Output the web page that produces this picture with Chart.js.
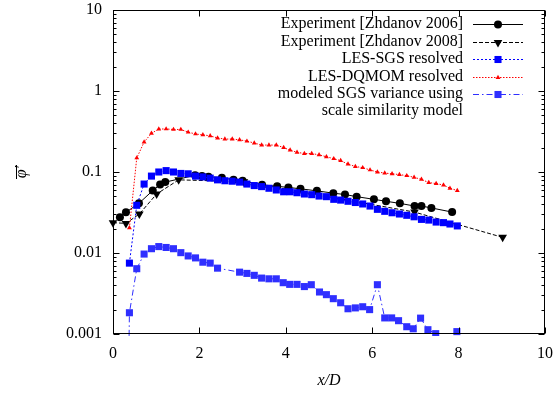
<!DOCTYPE html>
<html><head><meta charset="utf-8">
<style>html,body{margin:0;padding:0;background:#fff;}#wrap{position:relative;width:556px;height:394px;}</style>
<script src="https://cdn.jsdelivr.net/npm/chart.js@4.4.1/dist/chart.umd.min.js"></script>
</head><body><div id="wrap"><canvas id="c" width="556" height="394"></canvas></div>
<script>
// ---- data ----
const xTicks = [0, 2, 4, 6, 8, 10];
const yTicks = [0.001, 0.01, 0.1, 1, 10];
const xTitle = 'x/D';
const yTitle = '\u03C6\u2032';
const seriesNames = ['Experiment [Zhdanov 2006]', 'Experiment [Zhdanov 2008]', 'LES-SGS resolved', 'LES-DQMOM resolved', ['modeled SGS variance using', 'scale similarity model']];

const exp2006X = [0.16,0.30,0.60,0.92,1.09,1.21,1.90,2.06,2.21,2.52,2.79,3.00,3.45,3.80,4.06,4.34,4.72,5.10,5.37,5.64,6.04,6.32,6.64,6.98,7.14,7.37,7.85];
const exp2006Y = [0.0276,0.0318,0.041,0.059,0.070,0.075,0.091,0.089,0.0875,0.085,0.080,0.078,0.0695,0.0665,0.0645,0.062,0.0585,0.0548,0.0527,0.0496,0.046,0.0435,0.041,0.038,0.038,0.036,0.032];

const exp2008X = [0, 0.30, 0.61, 1.01, 1.52, 3.03, 6.98, 9.02];
const exp2008Y = [0.0237, 0.0232, 0.0303, 0.0535, 0.080, 0.076, 0.032, 0.0156];

const lesX = [0.38,0.55,0.72,0.89,1.06,1.23,1.40,1.57,1.74,1.91,2.08,2.25,2.42,2.59,2.76,2.93,3.10,3.27,3.44,3.61,3.78,3.95,4.10,4.26,4.43,4.60,4.77,4.94,5.11,5.27,5.44,5.61,5.78,5.95,6.12,6.29,6.46,6.63,6.80,6.97,7.14,7.31,7.48,7.65,7.80,7.97];
const sgsResolvedY = [0.0075,0.0388,0.071,0.089,0.100,0.104,0.100,0.096,0.095,0.089,0.087,0.084,0.080,0.078,0.077,0.075,0.071,0.068,0.066,0.063,0.060,0.057,0.057,0.0555,0.0535,0.0525,0.0505,0.0496,0.046,0.045,0.0435,0.042,0.0403,0.038,0.0346,0.0327,0.0314,0.0303,0.0292,0.028,0.026,0.0255,0.0241,0.0237,0.0228,0.0216];
const dqmomY = [0.0204,0.149,0.234,0.300,0.339,0.340,0.335,0.335,0.310,0.295,0.287,0.280,0.263,0.255,0.255,0.250,0.240,0.228,0.215,0.215,0.215,0.200,0.186,0.175,0.169,0.169,0.163,0.154,0.146,0.138,0.125,0.117,0.113,0.106,0.100,0.097,0.095,0.093,0.090,0.086,0.081,0.074,0.072,0.069,0.063,0.059];

const varX = [0.36,0.38,0.55,0.72,0.89,1.06,1.23,1.40,1.57,1.74,1.91,2.08,2.25,2.42,2.93,3.10,3.27,3.44,3.61,3.78,3.94,4.09,4.26,4.43,4.59,4.78,4.94,5.10,5.27,5.44,5.61,5.78,5.94,6.12,6.29,6.45,6.61,6.80,6.95,7.12,7.29,7.47,7.63,7.80,7.96];
const varY = [0.0003,0.00183,0.0064,0.0097,0.0113,0.0120,0.0117,0.0113,0.0101,0.0092,0.0087,0.0077,0.0075,0.0065,0.0058,0.0056,0.0053,0.0049,0.0048,0.0048,0.0043,0.0041,0.0041,0.00385,0.00406,0.0033,0.00306,0.00273,0.00243,0.00205,0.0021,0.00217,0.0020,0.00406,0.00158,0.00158,0.00146,0.00123,0.00116,0.00157,0.00113,0.00101,0.0008,0.0008,0.00107];

// ---- helpers ----
const pts = (xs, ys) => xs.map((x, i) => ({x: x, y: ys[i]}));
const SERIF = '"Liberation Serif", "DejaVu Serif", serif';

const styles = [
  {color:'#000000', dash:[], marker:'circle', r:4, rot:0, lw:1},
  {color:'#000000', dash:[4,2], marker:'triangle', r:5, rot:180, lw:1},
  {color:'#0000ff', dash:[2,2], marker:'rect', r:5, rot:0, lw:1},
  {color:'#ff0000', dash:[1.5,1.5], marker:'triangle', r:2.8, rot:0, lw:1},
  {color:'#2f2fff', dash:[6,3,1.5,3], marker:'rect', r:5, rot:0, lw:1}
];

function makeDs(i, data, order, clip) {
  const s = styles[i];
  return {
    label: Array.isArray(seriesNames[i]) ? seriesNames[i].join(' ') : seriesNames[i],
    data: data, order: order,
    borderColor: s.color, backgroundColor: s.color, borderWidth: s.lw, borderDash: s.dash,
    pointStyle: s.marker, pointRadius: s.r, pointRotation: s.rot,
    pointBackgroundColor: s.color, pointBorderWidth: 0, pointHoverRadius: s.r,
    tension: 0, fill: false, clip: clip
  };
}

function drawMarker(ctx, s, x, y) {
  ctx.save();
  ctx.fillStyle = s.color;
  ctx.beginPath();
  if (s.marker === 'circle') {
    ctx.arc(x, y, s.r, 0, Math.PI * 2);
  } else if (s.marker === 'rect') {
    const h = s.r * Math.SQRT1_2;
    ctx.rect(x - h, y - h, 2 * h, 2 * h);
  } else {
    let rad = s.rot * Math.PI / 180;
    for (let k = 0; k < 3; k++) {
      const px = x + Math.sin(rad) * s.r, py = y - Math.cos(rad) * s.r;
      if (k === 0) ctx.moveTo(px, py); else ctx.lineTo(px, py);
      rad += 2 * Math.PI / 3;
    }
    ctx.closePath();
  }
  ctx.fill();
  ctx.restore();
}

const framePlugin = {
  id: 'frame',
  afterDatasetsDraw(chart) {
    const {ctx, chartArea: a, scales: {x, y}} = chart;
    ctx.save();
    ctx.strokeStyle = '#000'; ctx.lineWidth = 1; ctx.setLineDash([]);
    const L = Math.round(a.left) + 0.5, R = Math.round(a.right) - 0.5, T = Math.round(a.top) + 0.5, B = Math.round(a.bottom) - 0.5;
    ctx.strokeRect(L, T, R - L, B - T);
    ctx.beginPath();
    for (const v of xTicks) {
      const px = Math.round(x.getPixelForValue(v)) + 0.5;
      ctx.moveTo(px, B); ctx.lineTo(px, B - 6);
      ctx.moveTo(px, T); ctx.lineTo(px, T + 6);
    }
    for (let e = -3; e <= 1; e++) {
      for (let m = 1; m <= 9; m++) {
        const v = m * Math.pow(10, e);
        if (v > 10.0001) continue;
        const py = Math.round(y.getPixelForValue(v)) + 0.5;
        const len = m === 1 ? 6 : 3;
        ctx.moveTo(L, py); ctx.lineTo(L + len, py);
        ctx.moveTo(R, py); ctx.lineTo(R - len, py);
      }
    }
    ctx.stroke();
    // overline of the rotated y-axis title
    const cy = (a.top + a.bottom) / 2;
    ctx.beginPath();
    ctx.moveTo(16.5, cy - 7); ctx.lineTo(16.5, cy + 7);
    ctx.stroke();
    ctx.restore();
  },
  afterDraw(chart) {
    const ctx = chart.ctx;
    const rows = [24, 41.5, 59, 76.5, 94];
    const textRight = 463, x0 = 473, x1 = 523, xm = 498;
    ctx.save();
    ctx.font = '16px ' + SERIF;
    ctx.fillStyle = '#000';
    ctx.textAlign = 'right';
    ctx.textBaseline = 'middle';
    seriesNames.forEach((name, i) => {
      const yy = rows[i];
      const lines = Array.isArray(name) ? name : [name];
      lines.forEach((t, k) => ctx.fillText(t, textRight, yy + k * 16.5));
      const s = styles[i];
      ctx.save();
      ctx.strokeStyle = s.color; ctx.lineWidth = s.lw; ctx.setLineDash(s.dash);
      ctx.beginPath(); ctx.moveTo(x0, Math.round(yy) + 0.5); ctx.lineTo(x1, Math.round(yy) + 0.5); ctx.stroke();
      ctx.restore();
      drawMarker(ctx, s, xm, Math.round(yy) + 0.5);
    });
    ctx.restore();
  }
};

function zeroPad(s) { s.paddingTop = 0; s.paddingBottom = 0; s.paddingLeft = 0; s.paddingRight = 0; }

const chart = new Chart(document.getElementById('c'), {
  type: 'line',
  data: {
    datasets: [
      makeDs(0, pts(exp2006X, exp2006Y), 5, {left: 6, top: 0, right: 0, bottom: 0}),
      makeDs(1, pts(exp2008X, exp2008Y), 4, {left: 6, top: 0, right: 0, bottom: 0}),
      makeDs(2, pts(lesX, sgsResolvedY), 3, 0),
      makeDs(3, pts(lesX, dqmomY), 2, 0),
      makeDs(4, pts(varX, varY), 1, {left: 0, top: 0, right: 0, bottom: 2})
    ]
  },
  options: {
    responsive: false, animation: false, devicePixelRatio: 1,
    layout: {padding: {left: 0, right: 11, top: 10, bottom: 0}},
    plugins: {legend: {display: false}, tooltip: {enabled: false}, title: {display: false}},
    scales: {
      x: {
        type: 'linear', min: 0, max: 10,
        afterBuildTicks: (s) => { s.ticks = xTicks.map(v => ({value: v})); },
        afterFit: (s) => { s.height = 60; zeroPad(s); },
        grid: {display: false, drawTicks: false},
        border: {display: false},
        ticks: {color: '#000', padding: 10, maxRotation: 0, font: {family: SERIF, size: 16}, callback: (v) => String(v)},
        title: {display: true, text: xTitle, color: '#000', font: {family: SERIF, size: 16, style: 'italic'}, padding: {top: 0, bottom: 4}}
      },
      y: {
        type: 'logarithmic', min: 0.001, max: 10,
        afterBuildTicks: (s) => { s.ticks = yTicks.map(v => ({value: v})); },
        afterFit: (s) => { s.width = 113; zeroPad(s); },
        grid: {display: false, drawTicks: false},
        border: {display: false},
        ticks: {color: '#000', padding: 11, font: {family: SERIF, size: 16}, callback: (v) => String(v)},
        title: {display: true, text: yTitle, color: '#000', font: {family: SERIF, size: 16, style: 'italic'}, padding: {top: 12, bottom: 0}}
      }
    }
  },
  plugins: [framePlugin]
});
</script>
</body></html>
